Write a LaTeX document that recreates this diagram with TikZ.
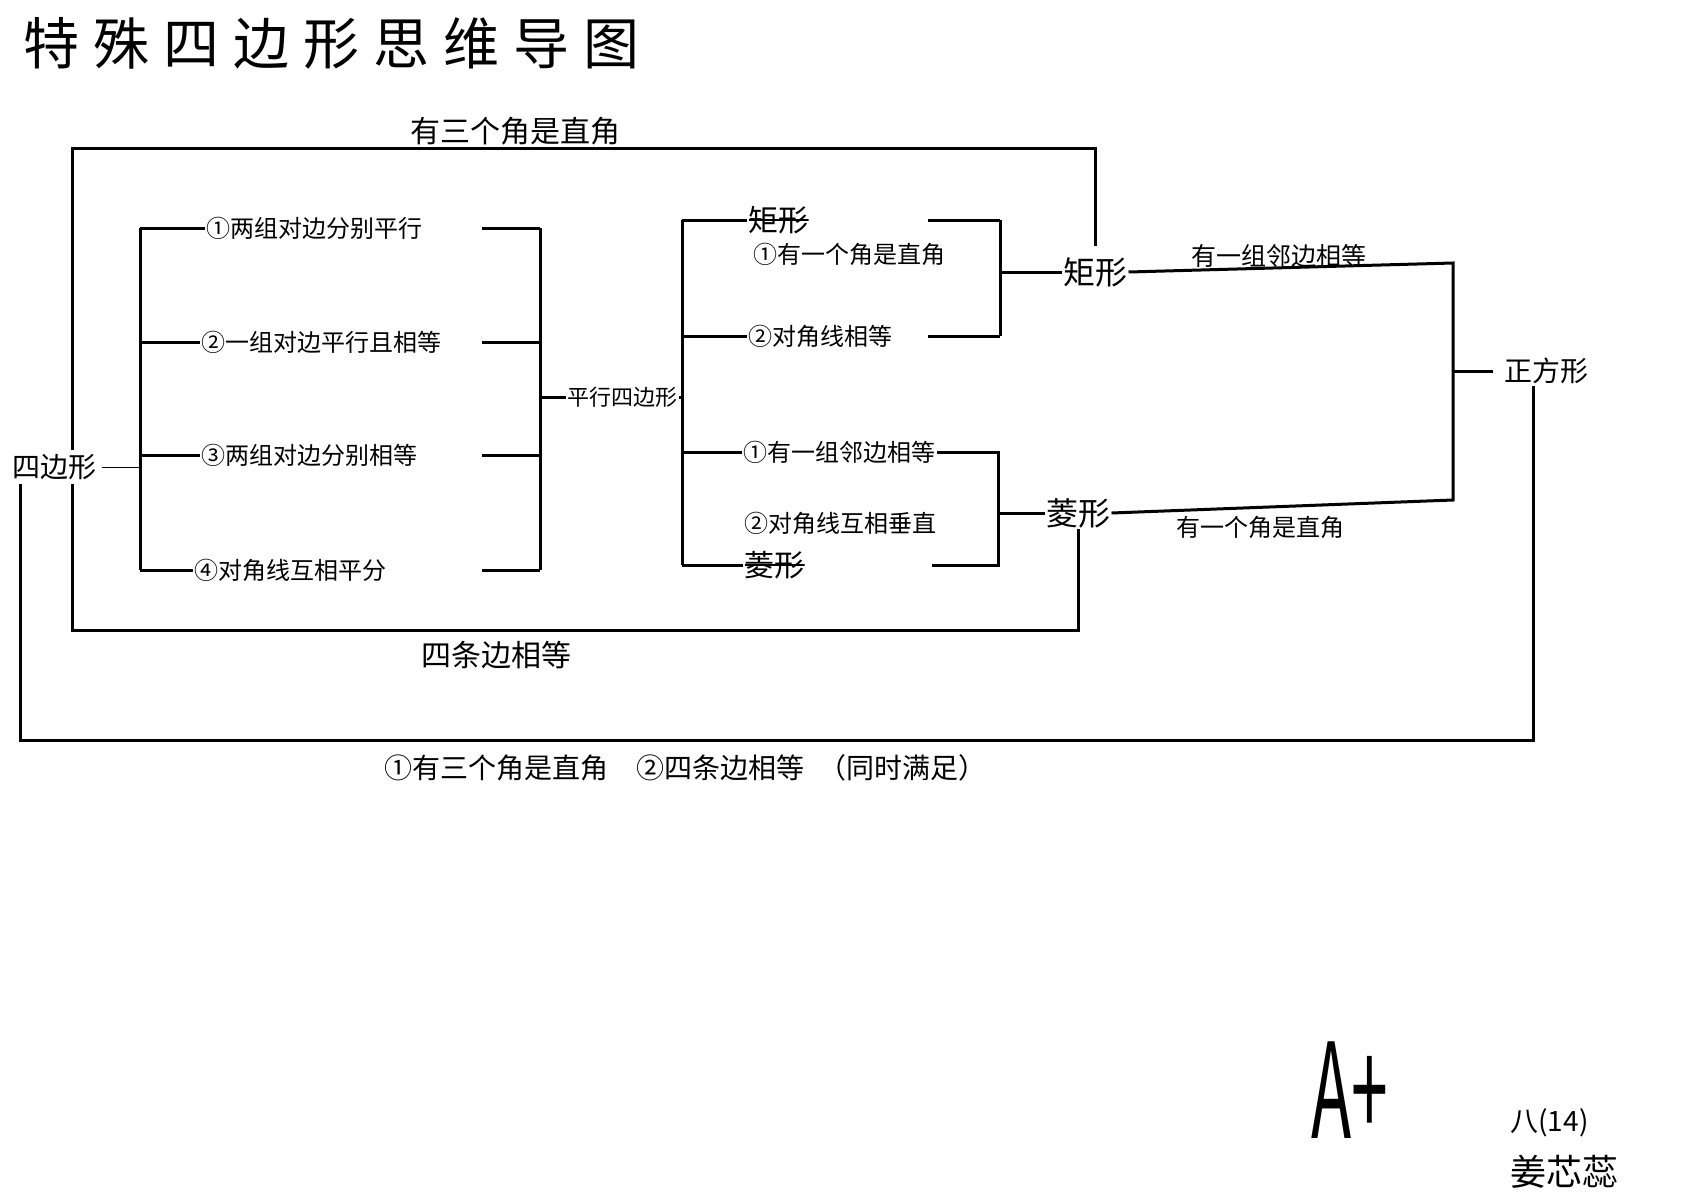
\documentclass[tikz,border=0pt]{standalone}
\usepackage{fontspec}
\usepackage{graphicx}
\setmainfont{Noto Sans CJK SC}

\begin{document}
\begin{tikzpicture}[x=0.5pt, y=-0.5pt, line width=1.5pt,
			leaf/.style={inner sep=0pt, anchor=west, font=\fontsize{12}{14}\selectfont},
			figur/.style={inner sep=0pt, font=\fontsize{16}{18}\selectfont},
			notiz/.style={inner sep=0pt, font=\fontsize{15}{17}\selectfont},
			kante/.style={inner sep=0pt, font=\fontsize{12.5}{14}\selectfont},
			struck/.style={leaf, font=\fontsize{15}{17}\selectfont,
				path picture={\draw[line width=1.2pt] (path picture bounding box.west) -- (path picture bounding box.east);}}]
			%Bildbereich
			\useasboundingbox (0,0) rectangle (1690,1200);
			% Titel
			\node[anchor=west, inner sep=0pt, font={\fontsize{28}{30}\selectfont\addfontfeature{LetterSpace=25}}] (titel) at (22,43) {特殊四边形思维导图};
			% Knoten zeichnen
			\node[inner sep=0pt, font=\fontsize{14}{16}\selectfont] (viereck) at (54,467) {四边形};
			\node[leaf] (p1) at (205,228) {①两组对边分别平行};
			\node[leaf] (p2) at (200,342) {②一组对边平行且相等};
			\node[leaf] (p3) at (200,455) {③两组对边分别相等};
			\node[leaf] (p4) at (193,570) {④对角线互相平分};
			\node[leaf, font=\fontsize{11}{12}\selectfont] (pgram) at (566,397) {平行四边形};
			\node[struck] (x1) at (747,220) {矩形};
			\node[leaf] (r1) at (752,254) {①有一个角是直角};
			\node[leaf] (r2) at (747,336) {②对角线相等};
			\node[leaf] (h1) at (742,452) {①有一组邻边相等};
			\node[leaf] (h2) at (743,523) {②对角线互相垂直};
			\node[struck] (x2) at (743,565) {菱形};
			\node[figur] (rect) at (1095,272) {矩形};
			\node[figur] (rhomb) at (1078,513) {菱形};
			\node[inner sep=0pt, font=\fontsize{14}{16}\selectfont] (square) at (1546,371) {正方形};
			% Klammern
			\coordinate (k1o) at (140,228);
			\coordinate (k1u) at (140,570);
			\coordinate (k2a) at (482,0);
			\coordinate (k2o) at (540,228);
			\coordinate (k2u) at (540,570);
			\coordinate (k3o) at (682,220);
			\coordinate (k3u) at (682,565);
			\coordinate (k4a) at (928,0);
			\coordinate (k4o) at (1000,220);
			\coordinate (k4u) at (1000,336);
			\coordinate (k5a) at (932,0);
			\coordinate (k5o) at (998,452);
			\coordinate (k5u) at (998,565);
			\coordinate (k6o) at (1453,263);
			\coordinate (k6u) at (1453,500);
			\draw[thin] (viereck.east) ++(4,0) -- (viereck.east -| k1o);
			\draw (k1o) -- (k1u);
			\foreach \n in {1,...,4} \draw (p\n.west -| k1o) -- (p\n.west);
			\foreach \n in {1,...,4} \draw (p\n.west -| k2a) -- (p\n.west -| k2o);
			\draw (k2o) -- (k2u);
			\draw (pgram.west -| k2o) -- (pgram.west);
			\draw (pgram.east) -- (pgram.east -| k3o);
			\draw (k3o) -- (k3u);
			\foreach \n in {x1,r2,h1,x2} \draw (\n.west -| k3o) -- (\n.west);
			% zu Rechteck und Raute
			\foreach \n in {x1,r2} \draw (\n.west -| k4a) -- (\n.west -| k4o);
			\draw (k4o) -- (k4u);
			\draw (rect.west -| k4o) -- (rect.west);
			\draw (h1.east) -- (k5o) -- (k5u) -- (k5u -| k5a);
			\draw (rhomb.west -| k5o) -- (rhomb.west);
			% zum Quadrat
			\draw (rect.east) -- (k6o) -- (k6u) -- (rhomb.east);
			\draw[shorten >=5pt] (square.west -| k6o) -- (square.west);
			% Schleifen
			\coordinate (vo) at (72,450);
			\coordinate (ecke1) at (72,148);
			\draw[shorten >=5pt] (vo) -- (ecke1) -| (rect.north);
			\coordinate (vu) at (72,484);
			\coordinate (ecke2) at (72,630);
			\draw (vu) -- (ecke2) -| (rhomb.south);
			\coordinate (va) at (20,484);
			\coordinate (ecke3) at (20,740);
			\draw (va) -- (ecke3) -| ([xshift=-6.5pt]square.south);
			%Beschriftung
			\node[notiz] (l1) at (515,131) {有三个角是直角};
			\node[notiz] (l2) at (496,655) {四条边相等};
			\node[kante] (l3) at (1279,256) {有一组邻边相等};
			\node[kante, font=\fontsize{12}{14}\selectfont] (l4) at (1260,527) {有一个角是直角};
			\node[anchor=west, inner sep=0pt, font=\fontsize{14}{16}\selectfont] (l5) at (383,768) {①有三个角是直角\quad ②四条边相等\enspace（同时满足）};
			% Note und Name
			\node[inner sep=0pt, font=\fontsize{60}{60}\selectfont] (note) at (1350,1090) {\scalebox{0.55}[1.1]{A+}};
			\node[anchor=west, inner sep=0pt, font=\fontsize{14}{16}\selectfont] (klasse) at (1509,1123) {八(14)};
			\node[anchor=west, inner sep=0pt, font=\fontsize{18}{20}\selectfont] (name) at (1509,1172) {姜芯蕊};
		\end{tikzpicture}
\end{document}
